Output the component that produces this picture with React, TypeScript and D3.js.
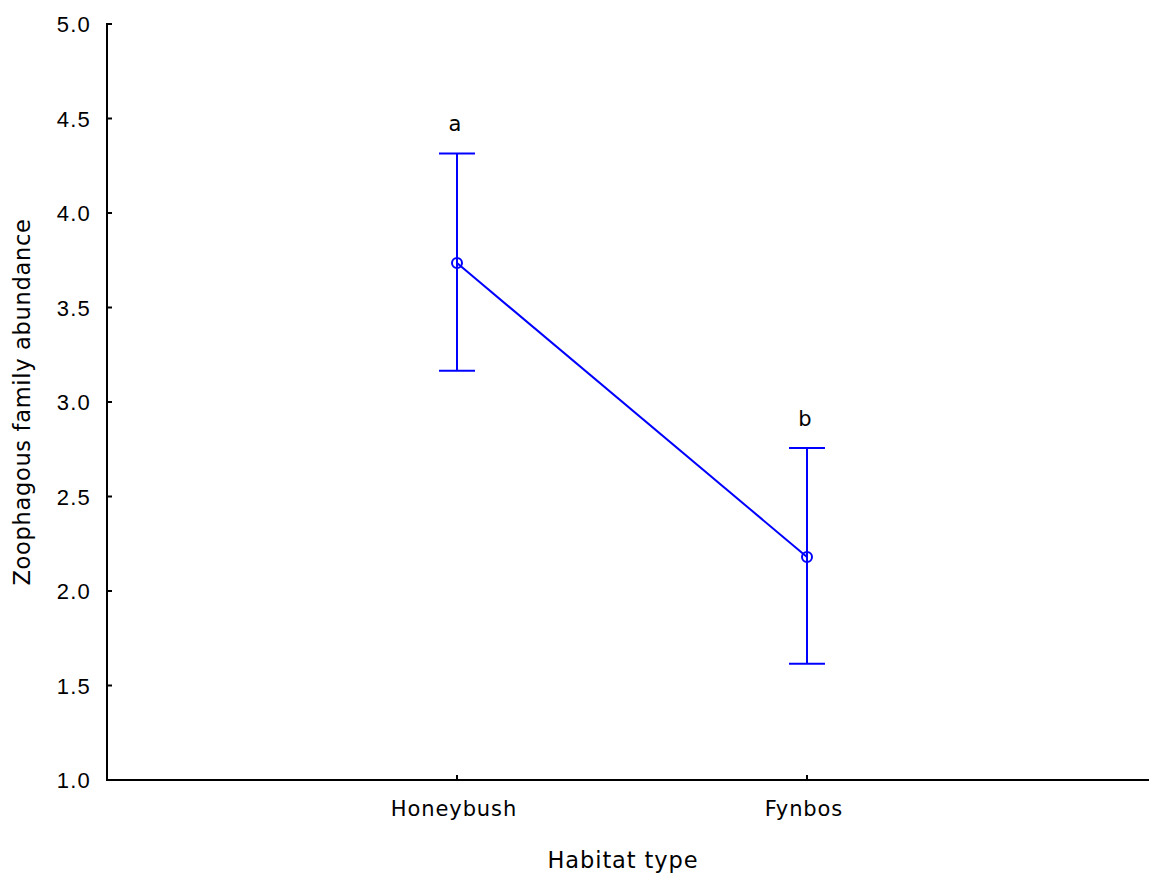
import React, { useEffect, useRef } from 'react';
import * as d3 from 'd3';

const habitats = ['Honeybush', 'Fynbos'];
const means = [3.735, 2.18];
const upper = [4.315, 2.757];
const lower = [3.165, 1.615];
const letters = ['a', 'b'];
const yTicks = [1.0, 1.5, 2.0, 2.5, 3.0, 3.5, 4.0, 4.5, 5.0];

const App = () => {
  const ref = useRef<SVGSVGElement | null>(null);

  useEffect(() => {
    const svg = d3.select(ref.current);
    svg.selectAll('*').remove();

    const left = 107;
    const top = 24;
    const bottom = 780;

    const x = d3.scaleLinear().domain([-1, 2]).range([left, 1157]);
    const y = d3.scaleLinear().domain([1, 5]).range([bottom, top]);

    const g = svg.append('g');

    // y axis, ticks point inward
    g.append('line')
      .attr('x1', left).attr('x2', left)
      .attr('y1', top - 1).attr('y2', bottom + 1)
      .attr('stroke', '#000').attr('stroke-width', 2);
    g.selectAll('.ytick')
      .data(yTicks)
      .enter()
      .append('line')
      .attr('x1', left).attr('x2', left + 5)
      .attr('y1', (d) => y(d)).attr('y2', (d) => y(d))
      .attr('stroke', '#000').attr('stroke-width', 2);
    g.selectAll('.ylab')
      .data(yTicks)
      .enter()
      .append('text')
      .attr('x', 91)
      .attr('y', (d) => y(d) + 8)
      .attr('text-anchor', 'end')
      .attr('font-family', 'Liberation Sans, Arial, sans-serif')
      .attr('font-size', 22)
      .attr('letter-spacing', 1.2)
      .text((d) => d.toFixed(1));

    // x axis
    g.append('line')
      .attr('x1', left - 1).attr('x2', 1149)
      .attr('y1', bottom).attr('y2', bottom)
      .attr('stroke', '#000').attr('stroke-width', 2);
    g.selectAll('.xtick')
      .data(habitats)
      .enter()
      .append('line')
      .attr('x1', (d, i) => x(i)).attr('x2', (d, i) => x(i))
      .attr('y1', bottom).attr('y2', bottom - 5)
      .attr('stroke', '#000').attr('stroke-width', 2);
    g.selectAll('.xlab')
      .data(habitats)
      .enter()
      .append('text')
      .attr('x', (d, i) => x(i) - 3)
      .attr('y', 816)
      .attr('text-anchor', 'middle')
      .attr('font-family', 'DejaVu Sans, sans-serif')
      .attr('font-size', 21)
      .attr('letter-spacing', 0.9)
      .text((d) => d);

    // axis titles
    g.append('text')
      .attr('x', 623)
      .attr('y', 868)
      .attr('text-anchor', 'middle')
      .attr('font-family', 'DejaVu Sans, sans-serif')
      .attr('font-size', 22.5)
      .attr('letter-spacing', 0.9)
      .text('Habitat type');
    g.append('text')
      .attr('transform', `translate(30, 402) rotate(-90)`)
      .attr('text-anchor', 'middle')
      .attr('font-family', 'DejaVu Sans, sans-serif')
      .attr('font-size', 22.5)
      .attr('letter-spacing', 0.7)
      .text('Zoophagous family abundance');

    const blue = '#0000ff';

    // error bars
    habitats.forEach((h, i) => {
      const cx = x(i);
      g.append('line')
        .attr('x1', cx).attr('x2', cx)
        .attr('y1', y(upper[i])).attr('y2', y(lower[i]))
        .attr('stroke', blue).attr('stroke-width', 2);
      [upper[i], lower[i]].forEach((v) => {
        g.append('line')
          .attr('x1', cx - 18).attr('x2', cx + 18)
          .attr('y1', y(v)).attr('y2', y(v))
          .attr('stroke', blue).attr('stroke-width', 2);
      });
      g.append('text')
        .attr('x', cx - 2)
        .attr('y', y(upper[i]) - 22)
        .attr('text-anchor', 'middle')
        .attr('font-family', 'DejaVu Sans, sans-serif')
        .attr('font-size', 21)
        .text(letters[i]);
    });

    // mean line
    const line = d3
      .line<number>()
      .x((d, i) => x(i))
      .y((d) => y(d));
    g.append('path')
      .datum(means)
      .attr('d', line)
      .attr('fill', 'none')
      .attr('stroke', blue)
      .attr('stroke-width', 2);

    g.selectAll('.pt')
      .data(means)
      .enter()
      .append('circle')
      .attr('cx', (d, i) => x(i))
      .attr('cy', (d) => y(d))
      .attr('r', 5)
      .attr('fill', 'none')
      .attr('stroke', blue)
      .attr('stroke-width', 2);
  }, []);

  return (
    <svg
      ref={ref}
      width={1149}
      height={873}
      style={{ position: 'absolute', left: 0, top: 0, background: '#fff' }}
    />
  );
};

export default App;
